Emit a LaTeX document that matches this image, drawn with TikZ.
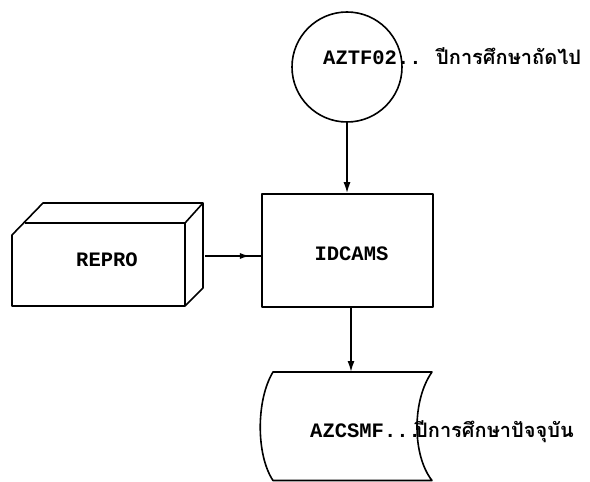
\documentclass[tikz,border=0pt]{standalone}
\usepackage{fontspec}
\setmonofont{Liberation Mono}
\newfontfamily\thaifont[Script=Thai]{Loma}
\usetikzlibrary{arrows.meta,decorations.markings,calc}
\begin{document}
\begin{tikzpicture}[x=1bp,y=-1bp,
  ln/.style={line width=1.6bp, line join=round},
  lbl/.style={inner sep=0pt, anchor=base west, font=\ttfamily\bfseries\fontsize{20.5bp}{22bp}\selectfont},
  thlbl/.style={inner sep=0pt, anchor=base west, font=\thaifont\bfseries\fontsize{20bp}{22bp}\selectfont},
  arr/.style={ln, -{Latex[length=11bp,width=7bp]}},
  midarr/.style={ln, postaction={decorate}, decoration={markings,
     mark=at position 0.8 with {\arrow{Latex[length=10bp,width=6bp]}}}}
]
\useasboundingbox (0,0) rectangle (590,482);
% circle (disk file)
\node[ln, draw, circle, minimum size=110bp, inner sep=0pt] (aztf) at (347,67) {};
\node[lbl] (aztft) at (323,65) {AZTF02..};
\node[thlbl] (aztfth) at (436,65) {ปีการศึกษาถัดไป};
% IDCAMS process box
\node[ln, draw, rectangle, minimum width=171bp, minimum height=113bp, inner sep=0pt] (idcams) at (347.5,250.5) {};
\node[lbl, anchor=base] (idcamst) at (351.5,260) {IDCAMS};
% REPRO 3D box
\draw[ln] (12,306) -- (12,235) -- (43,203) -- (203,203) -- (203,288) -- (185,306) -- cycle;
\draw[ln] (25,223) -- (185,223) -- (185,306);
\draw[ln] (185,223) -- (203,203);
\node[lbl, anchor=base] (reprot) at (107,266) {REPRO};
\coordinate (reproR) at (205,256);
% AZCSMF stored data shape
\draw[ln] (273,372) -- (432,372)
  .. controls (412,400) and (412,455) .. (432,480.5)
  -- (273,480.5)
  .. controls (256,455) and (256,400) .. (273,372) -- cycle;
\coordinate (doctop) at (351,372);
\node[lbl] (azcsmft) at (310,437) {AZCSMF...};
\node[thlbl] (azcsmfth) at (415,437) {ปีการศึกษาปัจจุบัน};
% connectors
\draw[arr] (aztf.south) -- (aztf.south |- idcams.north);
\draw[arr] (idcams.south -| doctop) -- (doctop);
\draw[midarr] (reproR) -- (reproR -| idcams.west);
\end{tikzpicture}
\end{document}
